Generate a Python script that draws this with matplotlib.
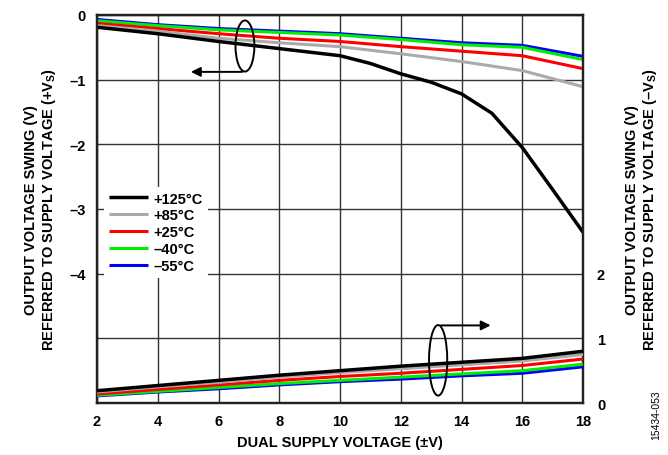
import matplotlib.pyplot as plt
from matplotlib.patches import Ellipse

plt.rcParams['font.family'] = ['Liberation Sans', 'DejaVu Sans']
plt.rcParams['font.weight'] = 'bold'
plt.rcParams['axes.labelweight'] = 'bold'
plt.rcParams['mathtext.fontset'] = 'custom'
plt.rcParams['mathtext.bf'] = 'Liberation Sans:bold'
plt.rcParams['mathtext.rm'] = 'Liberation Sans:bold'

# supply voltage (±V)
vs = [2, 4, 6, 8, 10, 12, 14, 16, 18]
vs_125 = [2, 4, 6, 8, 10, 11, 12, 13, 14, 15, 16, 17, 18]

# swing referred to +Vs (left axis)
high_125 = [-0.19, -0.29, -0.41, -0.52, -0.63, -0.75, -0.91, -1.04, -1.22, -1.52, -2.05, -2.7, -3.36]
high_85 = [-0.165, -0.25, -0.36, -0.43, -0.49, -0.60, -0.72, -0.86, -1.11]
high_25 = [-0.13, -0.21, -0.29, -0.36, -0.41, -0.49, -0.56, -0.63, -0.83]
high_m40 = [-0.09, -0.165, -0.23, -0.27, -0.31, -0.38, -0.46, -0.50, -0.69]
high_m55 = [-0.07, -0.15, -0.21, -0.25, -0.29, -0.36, -0.43, -0.47, -0.64]

# swing referred to -Vs (right axis)
low_125 = [0.19, 0.27, 0.35, 0.43, 0.50, 0.57, 0.63, 0.69, 0.80]
low_85 = [0.17, 0.25, 0.32, 0.40, 0.47, 0.53, 0.59, 0.65, 0.75]
low_25 = [0.14, 0.21, 0.28, 0.35, 0.41, 0.46, 0.52, 0.58, 0.68]
low_m40 = [0.12, 0.18, 0.24, 0.30, 0.35, 0.40, 0.45, 0.50, 0.60]
low_m55 = [0.11, 0.17, 0.22, 0.28, 0.33, 0.37, 0.42, 0.46, 0.56]

labels = ['+125°C', '+85°C', '+25°C', '–40°C', '–55°C']
colors = ['#000000', '#aaaaaa', '#ff0000', '#00ee00', '#0000ff']

fig = plt.figure(figsize=(6.68, 4.56), dpi=100)
ax = fig.add_axes([0.1452, 0.114, 0.7276, 0.851])
ax2 = ax.twinx()

highs = [high_125, high_85, high_25, high_m40, high_m55]
lows = [low_125, low_85, low_25, low_m40, low_m55]
handles = [None] * 5
for i in range(4, -1, -1):
    xs = vs_125 if i == 0 else vs
    lw = 2.5 if i == 0 else 2.2
    h, = ax.plot(xs, highs[i], color=colors[i], lw=lw, zorder=3,
                 solid_capstyle='butt', solid_joinstyle='round')
    ax2.plot(vs, lows[i], color=colors[i], lw=lw, zorder=3,
             solid_capstyle='butt', solid_joinstyle='round')
    handles[i] = h

ax.set_xlim(2, 18)
ax.set_ylim(-6, 0)
ax2.set_ylim(0, 6)
ax.set_xticks(vs)
ax.set_yticks([0, -1, -2, -3, -4, -5, -6])
ax.set_yticklabels(['0', '–1', '–2', '–3', '–4', '', ''])
ax2.set_yticks([0, 1, 2, 3, 4, 5, 6])
ax2.set_yticklabels(['0', '1', '2', '', '', '', ''])
ax.grid(True, color='#333333', lw=1.0)
ax.tick_params(length=0, labelsize=10.5, pad=8)
ax2.tick_params(length=0, labelsize=10.5, pad=10)
for sp in list(ax.spines.values()) + list(ax2.spines.values()):
    sp.set_linewidth(1.6)
    sp.set_color('#222222')

ax.set_xlabel('DUAL SUPPLY VOLTAGE (±V)', fontsize=10.5, labelpad=5)
ax.set_ylabel('OUTPUT VOLTAGE SWING (V)\nREFERRED TO SUPPLY VOLTAGE (+V$\\mathbf{_S}$)',
              fontsize=10.5, labelpad=8, linespacing=1.15)
ax2.set_ylabel('OUTPUT VOLTAGE SWING (V)\nREFERRED TO SUPPLY VOLTAGE (–V$\\mathbf{_S}$)',
               fontsize=10.5, labelpad=14, linespacing=1.15)

leg = ax.legend(handles, labels, loc='upper left', bbox_to_anchor=(0.0, 0.575),
                frameon=True, edgecolor='none', facecolor='white', framealpha=1,
                fontsize=10.5, handlelength=2.7, handletextpad=0.4,
                labelspacing=0.2, borderpad=0.3)
leg.get_frame().set_linewidth(0)
leg.set_zorder(5)

# group markers
ax.add_patch(Ellipse((6.87, -0.48), 0.62, 0.79, fill=False, lw=1.4, color='black', zorder=4))
ax.annotate('', xy=(5.0, -0.88), xytext=(6.87, -0.88),
            arrowprops=dict(arrowstyle='-|>', color='black', lw=1.4, mutation_scale=14))
ax2.add_patch(Ellipse((13.23, 0.66), 0.6, 1.09, fill=False, lw=1.4, color='black', zorder=4))
ax2.annotate('', xy=(15.05, 1.2), xytext=(13.23, 1.2),
             arrowprops=dict(arrowstyle='-|>', color='black', lw=1.4, mutation_scale=14))

fig.text(0.982, 0.09, '15434-053', rotation=90, fontsize=7.5, fontweight='normal',
         ha='center', va='center')

fig.savefig('out.png', dpi=100)
